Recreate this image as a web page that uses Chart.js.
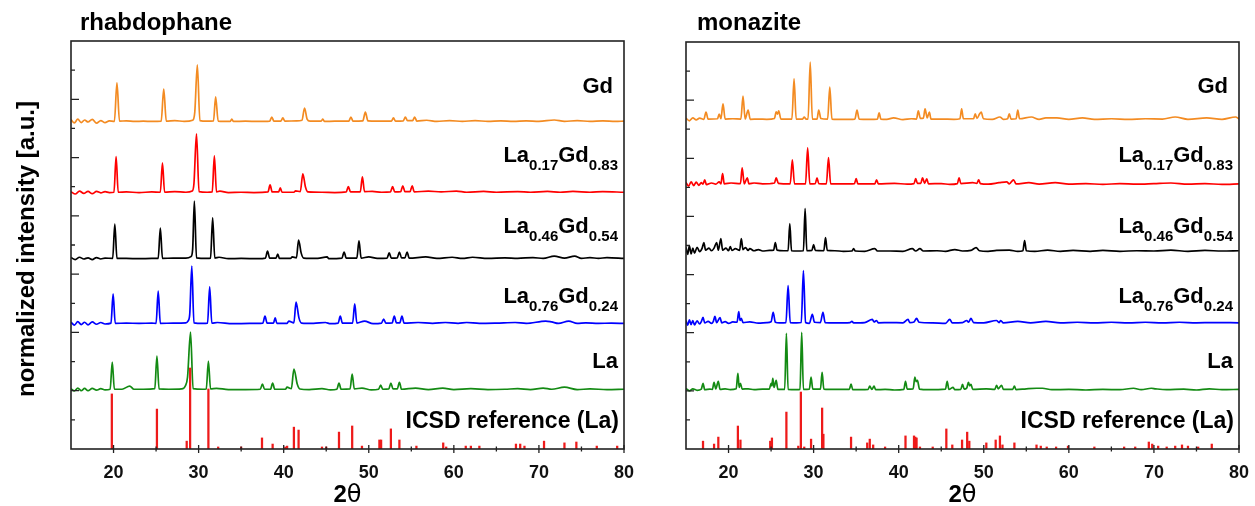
<!DOCTYPE html>
<html><head><meta charset="utf-8">
<script src="https://cdn.jsdelivr.net/npm/chart.js@4.4.1/dist/chart.umd.min.js"></script>
<style>
html,body{margin:0;padding:0;background:#fff;}
#wrap{position:relative;width:1255px;height:506px;overflow:hidden;background:#fff;}
canvas{position:absolute;top:0;}
</style></head><body>
<div id="wrap">
<canvas id="c1" width="640" height="506" style="left:0;width:640px;height:506px"></canvas>
<canvas id="c2" width="615" height="506" style="left:640px;width:615px;height:506px"></canvas>
</div>
<script>
// ---------------- DATA ----------------
const xTickLabels = [20, 30, 40, 50, 60, 70, 80];
const xMinorTicks = [25, 35, 45, 55, 65, 75];
const yMajorTicks = [2, 4, 6, 8, 10, 12];
const yMinorTicks = [1, 3, 5, 7, 9, 11, 13];
const panelTitles = ['rhabdophane', 'monazite'];
const sampleNames = ['Gd', 'La0.17Gd0.83', 'La0.46Gd0.54', 'La0.76Gd0.24', 'La'];
const referenceName = 'ICSD reference (La)';
const xAxisTitle = ['2', 'θ'];
const yAxisTitle = 'normalized intensity [a.u.]';

// vertical offsets of the stacked patterns (Gd, La0.17, La0.46, La0.76, La)
const rhabOffsets = [11.22, 8.79, 6.52, 4.29, 2.02];
const monOffsets = [11.32, 9.09, 6.79, 4.32, 2.02];

// rhabdophane patterns [2theta, intensity above own baseline]
const rhabGd = [[15,0.08],[15.4,-0.03],[15.8,0.1],[16.2,-0.02],[16.6,0.07],[17,0.0],[17.5,0.09],[18,-0.04],[18.5,0.05],[19,-0.02],[19.5,0.04],[20.1,0.02],[20.4,1.34],[20.7,0.03],[21.5,0.04],[22.5,0.02],[23.5,0.03],[24.5,0.02],[25.6,0.03],[25.9,1.13],[26.2,0.03],[27.2,0.05],[28.3,0.02],[29.3,0.06],[29.55,0.34],[29.85,1.96],[30.15,0.05],[31,0.03],[31.75,0.04],[32.0,0.86],[32.3,0.03],[33.7,0.02],[33.9,0.1],[34.1,0.02],[35.5,0.03],[37,0.02],[38.35,0.03],[38.6,0.17],[38.85,0.03],[39.65,0.03],[39.9,0.14],[40.15,0.03],[41.5,0.04],[42.15,0.06],[42.45,0.48],[42.75,0.1],[43.1,0.03],[44.4,0.03],[44.6,0.1],[44.8,0.02],[46,0.03],[47.65,0.03],[47.9,0.17],[48.15,0.03],[49.3,0.04],[49.6,0.34],[49.9,0.04],[51,0.03],[52.65,0.03],[52.9,0.14],[53.15,0.03],[54.05,0.04],[54.3,0.17],[54.55,0.05],[55.15,0.05],[55.4,0.17],[55.65,0.03],[56.8,0.06],[58,0.02],[59.5,0.05],[61,0.02],[62.5,0.05],[64,0.02],[65.5,0.04],[67,0.02],[68.5,0.04],[70,0.02],[71.8,0.07],[73,0.02],[74.5,0.05],[76,0.02],[77.5,0.04],[79,0.02],[80,0.03]];
const rhabLa017 = [[15,0.04],[15.5,-0.04],[16,0.06],[16.5,-0.02],[17,0.05],[17.5,-0.03],[18,0.05],[18.5,0.0],[19,0.04],[19.5,0.01],[20.05,0.02],[20.3,1.24],[20.55,0.02],[21.5,0.03],[23,0.01],[24.5,0.03],[25.5,0.02],[25.75,1.03],[26.0,0.02],[27.2,0.04],[28.5,0.02],[29.25,0.06],[29.45,0.31],[29.75,2.02],[30.05,0.04],[31.0,0.02],[31.6,0.03],[31.85,1.27],[32.1,0.03],[32.5,0.06],[33.5,0.01],[35,0.02],[36.5,0.01],[38.15,0.03],[38.4,0.27],[38.65,0.03],[39.4,0.03],[39.6,0.17],[39.8,0.02],[41.2,0.02],[41.4,0.07],[41.95,0.04],[42.25,0.65],[42.55,0.21],[42.85,0.03],[44.5,0.02],[46,0.01],[47.35,0.03],[47.6,0.21],[47.85,0.03],[49.0,0.03],[49.25,0.55],[49.5,0.04],[50.4,0.05],[51.5,0.02],[52.55,0.03],[52.8,0.21],[53.05,0.03],[53.75,0.04],[54.0,0.24],[54.25,0.04],[54.85,0.04],[55.1,0.24],[55.35,0.03],[57,0.06],[58.5,0.03],[60.3,0.06],[61.5,0.02],[63.5,0.05],[65,0.02],[67.5,0.04],[69,0.02],[71,0.05],[72.5,0.02],[74,0.05],[76,0.02],[77.5,0.04],[80,0.02]];
const rhabLa046 = [[15,0.05],[15.5,-0.02],[16,0.06],[16.5,0.0],[17,0.04],[17.5,-0.02],[18,0.05],[18.5,0.0],[19,0.03],[19.9,0.02],[20.15,1.2],[20.4,0.02],[21.5,0.02],[23,0.01],[24.5,0.02],[25.25,0.02],[25.5,1.06],[25.75,0.02],[27,0.03],[28.5,0.03],[29.1,0.08],[29.3,0.34],[29.5,1.99],[29.75,0.04],[31.0,0.02],[31.4,0.03],[31.65,1.41],[31.9,0.03],[32.4,0.06],[33.5,0.01],[35,0.02],[37,0.01],[37.85,0.03],[38.1,0.27],[38.35,0.03],[39.1,0.03],[39.3,0.17],[39.5,0.02],[40.8,0.02],[41.0,0.07],[41.5,0.04],[41.75,0.65],[42.05,0.21],[42.35,0.03],[44,0.02],[45.1,0.07],[45.3,0.01],[46.85,0.03],[47.1,0.24],[47.35,0.03],[48.6,0.03],[48.85,0.62],[49.1,0.03],[50.0,0.07],[51,0.02],[52.15,0.03],[52.4,0.21],[52.65,0.03],[53.35,0.04],[53.6,0.24],[53.85,0.04],[54.25,0.04],[54.5,0.24],[54.75,0.03],[56.7,0.07],[58,0.02],[59.8,0.06],[61,0.02],[62.2,0.06],[64,0.02],[66,0.04],[67.5,0.02],[69.3,0.05],[70.5,0.02],[71.8,0.1],[73,0.03],[74.2,0.1],[75,0.02],[76,0.05],[77,0.02],[78,0.05],[80,0.02]];
const rhabLa076 = [[15,0.06],[15.4,-0.04],[15.8,0.08],[16.2,-0.02],[16.6,0.06],[17,-0.03],[17.5,0.07],[18,-0.01],[18.5,0.05],[19,0.0],[19.7,0.03],[19.95,1.03],[20.2,0.02],[21.5,0.03],[23,0.02],[24.5,0.03],[25.0,0.02],[25.25,1.13],[25.5,0.02],[27,0.03],[28.5,0.04],[28.75,0.1],[28.95,0.31],[29.2,1.99],[29.45,0.04],[30.5,0.02],[31.05,0.03],[31.3,1.27],[31.55,0.03],[32.2,0.05],[34,0.01],[36,0.02],[37.55,0.03],[37.8,0.27],[38.05,0.03],[38.8,0.03],[39.0,0.21],[39.2,0.02],[40.4,0.02],[40.6,0.1],[41.2,0.04],[41.45,0.75],[41.8,0.2],[42.1,0.03],[43.5,0.02],[44.9,0.05],[45.5,0.01],[46.4,0.03],[46.65,0.27],[46.9,0.03],[48.1,0.03],[48.35,0.69],[48.6,0.03],[49.5,0.1],[50.5,0.01],[51.5,0.03],[51.75,0.17],[52.0,0.03],[52.75,0.04],[53.0,0.27],[53.25,0.04],[53.65,0.04],[53.9,0.27],[54.15,0.03],[55.8,0.05],[57.5,0.02],[59,0.05],[60.5,0.02],[61.5,0.05],[63,0.02],[65,0.03],[67.2,0.05],[68.5,0.02],[70.8,0.1],[71.5,0.07],[72.3,0.02],[73.5,0.1],[74.5,0.02],[75.5,0.04],[77,0.02],[78.5,0.03],[80,0.02]];
const rhabLa = [[15,0.05],[15.4,-0.03],[15.8,0.07],[16.2,-0.02],[16.6,0.06],[17,-0.02],[17.5,0.06],[18,0.0],[18.5,0.05],[19,0.01],[19.6,0.03],[19.85,0.96],[20.1,0.03],[21.0,0.03],[21.9,0.14],[22.4,0.03],[23.5,0.03],[24.85,0.05],[25.1,1.17],[25.35,0.04],[26.5,0.03],[28.0,0.04],[28.45,0.15],[28.7,0.45],[29.05,1.99],[29.35,0.05],[30.5,0.03],[30.9,0.04],[31.15,1.0],[31.4,0.04],[32.1,0.06],[33.5,0.02],[35.5,0.02],[37.25,0.03],[37.5,0.21],[37.75,0.03],[38.45,0.03],[38.7,0.24],[38.95,0.03],[40.2,0.03],[40.4,0.1],[40.9,0.05],[41.2,0.72],[41.6,0.2],[41.9,0.04],[43,0.02],[44.5,0.05],[45.5,0.01],[46.25,0.03],[46.5,0.24],[46.75,0.03],[47.8,0.04],[48.05,0.55],[48.3,0.04],[49.2,0.07],[50.3,0.01],[51.15,0.03],[51.4,0.17],[51.65,0.03],[52.35,0.04],[52.6,0.24],[52.85,0.04],[53.35,0.04],[53.6,0.27],[53.85,0.03],[55.5,0.07],[57,0.02],[58.7,0.07],[60,0.02],[62,0.05],[64,0.02],[66,0.03],[67.5,0.05],[69,0.02],[70.5,0.07],[71.5,0.03],[73,0.1],[74.5,0.02],[76,0.04],[78,0.02],[80,0.03]];
// rhabdophane ICSD reference reflections [2theta, intensity]
const rhabSticks = [[19.8,1.89],[25.1,1.37],[28.6,0.27],[29.0,2.78],[31.15,2.06],[32.3,0.07],[35.0,0.07],[37.45,0.38],[38.7,0.17],[40.2,0.07],[40.4,0.1],[41.2,0.75],[41.75,0.65],[44.5,0.07],[45.0,0.07],[46.5,0.58],[48.05,0.79],[49.2,0.1],[51.25,0.31],[51.45,0.31],[52.6,0.69],[53.6,0.31],[55.6,0.1],[58.75,0.21],[59.1,0.07],[61.4,0.1],[62.0,0.1],[63.0,0.1],[67.3,0.17],[67.8,0.17],[68.3,0.1],[70.6,0.27],[73.0,0.21],[74.4,0.24],[76.8,0.1],[79.2,0.1]];

// monazite patterns
const monGd = [[15,0.06],[15.4,-0.03],[15.8,0.07],[16.2,0.0],[16.6,0.06],[17.1,0.02],[17.35,0.27],[17.6,0.03],[18.7,0.04],[18.9,0.2],[19.1,0.04],[19.35,0.55],[19.6,0.03],[20.5,0.04],[21.45,0.03],[21.7,0.82],[21.95,0.03],[22.3,0.34],[22.55,0.02],[23.5,0.03],[24.5,0.02],[25.4,0.05],[25.6,0.28],[25.75,0.2],[25.9,0.31],[26.15,0.03],[27.45,0.03],[27.7,1.41],[27.95,0.03],[28.7,0.03],[28.9,0.1],[29.1,0.03],[29.35,0.03],[29.6,1.99],[29.85,0.03],[30.4,0.03],[30.6,0.34],[30.85,0.05],[31.65,0.03],[31.9,1.13],[32.15,0.03],[33.5,0.02],[34.85,0.03],[35.1,0.34],[35.35,0.03],[36.5,0.02],[37.5,0.03],[37.7,0.24],[37.9,0.03],[38.6,0.02],[39.4,0.07],[40.5,0.01],[41.5,0.04],[42.1,0.03],[42.3,0.31],[42.55,0.05],[42.9,0.06],[43.1,0.38],[43.35,0.07],[43.6,0.27],[43.8,0.03],[45,0.03],[46.5,0.02],[47.2,0.04],[47.4,0.38],[47.6,0.04],[48.8,0.04],[49.0,0.21],[49.2,0.05],[49.5,0.2],[49.7,0.27],[49.95,0.04],[51,0.02],[51.9,0.1],[52.3,0.02],[52.8,0.04],[53.0,0.21],[53.2,0.03],[53.8,0.04],[54.0,0.34],[54.2,0.04],[55.6,0.1],[56.5,0.02],[57.3,0.07],[58.6,0.07],[60,0.02],[61.6,0.07],[63,0.02],[65,0.04],[67,0.02],[69,0.04],[71,0.03],[72.5,0.1],[74,0.02],[76.2,0.07],[78,0.02],[79.6,0.1],[80,0.03]];
const monLa017 = [[15,0.08],[15.3,-0.05],[15.6,0.1],[15.9,-0.03],[16.2,0.09],[16.5,-0.02],[16.8,0.07],[17.0,0.02],[17.2,0.17],[17.4,0.0],[18,0.06],[18.5,0.02],[18.9,0.1],[19.1,0.03],[19.3,0.38],[19.5,0.03],[20.3,0.06],[21.4,0.04],[21.6,0.58],[21.85,0.03],[22.2,0.24],[22.4,0.03],[23,0.06],[24,0.03],[25.4,0.06],[25.6,0.24],[25.85,0.05],[27.25,0.03],[27.5,0.86],[27.75,0.03],[29.05,0.03],[29.3,1.27],[29.55,0.03],[30.2,0.04],[30.4,0.24],[30.6,0.04],[31.5,0.03],[31.75,0.93],[32.0,0.03],[33.5,0.03],[34.8,0.04],[35.0,0.21],[35.2,0.03],[36.5,0.03],[37.2,0.03],[37.4,0.17],[37.6,0.03],[39.5,0.05],[41,0.02],[41.8,0.04],[42.0,0.21],[42.2,0.05],[42.6,0.05],[42.8,0.24],[43.05,0.05],[43.3,0.2],[43.5,0.03],[45,0.04],[46,0.01],[46.9,0.04],[47.1,0.24],[47.3,0.04],[48.7,0.07],[49.2,0.05],[49.4,0.17],[49.6,0.04],[50.5,0.02],[51.8,0.07],[52.7,0.1],[53.0,0.03],[53.5,0.17],[53.8,0.03],[55.3,0.07],[56.5,0.02],[58.4,0.07],[60,0.02],[62,0.04],[64,0.01],[66,0.04],[68,0.02],[70,0.04],[72,0.06],[74,0.02],[76,0.04],[78,0.01],[80,0.03]];
const monLa046 = [[15,0.15],[15.2,-0.1],[15.4,0.2],[15.6,-0.08],[15.8,0.12],[16.0,-0.05],[16.3,0.15],[16.6,0.0],[16.9,0.12],[17.1,0.31],[17.3,0.05],[17.7,0.12],[18.0,0.03],[18.3,0.12],[18.6,0.31],[18.8,0.05],[19.1,0.45],[19.3,0.05],[19.7,0.12],[20.0,0.03],[20.2,0.17],[20.4,0.04],[20.8,0.1],[21.3,0.04],[21.5,0.45],[21.7,0.07],[22.0,0.14],[22.3,0.04],[22.5,0.1],[23.0,0.03],[23.5,0.07],[24.0,0.02],[24.8,0.04],[25.3,0.05],[25.5,0.31],[25.7,0.05],[26.5,0.03],[27.0,0.03],[27.2,0.96],[27.4,0.03],[28.0,0.02],[28.8,0.03],[29.0,1.48],[29.2,0.03],[29.8,0.04],[30.0,0.24],[30.2,0.04],[31.2,0.03],[31.4,0.48],[31.6,0.04],[32.5,0.03],[33.5,0.01],[34.5,0.02],[34.7,0.1],[34.9,0.02],[36,0.01],[37.2,0.1],[37.5,0.02],[39,0.02],[40.5,0.01],[41.6,0.1],[42.0,0.02],[42.5,0.1],[42.9,0.02],[44.5,0.03],[45.5,0.01],[46.6,0.07],[47.5,0.02],[48.5,0.04],[49.1,0.14],[49.5,0.03],[50.5,0.01],[51.5,0.04],[53.0,0.05],[54.0,0.01],[54.6,0.03],[54.8,0.38],[55.0,0.03],[56,0.01],[57.5,0.05],[59,0.01],[60.5,0.04],[62.5,0.01],[64,0.04],[66,0.01],[68,0.03],[70,0.02],[72,0.05],[74,0.01],[76,0.04],[78,0.02],[80,0.03]];
const monLa076 = [[15,0.1],[15.2,-0.06],[15.4,0.12],[15.6,-0.04],[15.8,0.1],[16.0,-0.05],[16.3,0.09],[16.6,-0.02],[16.8,0.06],[17.0,0.21],[17.2,0.02],[17.6,0.07],[18.0,0.0],[18.2,0.06],[18.4,0.24],[18.6,0.03],[19.0,0.2],[19.2,0.02],[19.6,0.06],[20.0,0.0],[20.5,0.05],[21.0,0.04],[21.2,0.41],[21.35,0.1],[21.5,0.17],[21.7,0.03],[22.5,0.05],[23.5,0.01],[24.5,0.03],[25.0,0.06],[25.25,0.38],[25.5,0.04],[26.0,0.02],[26.75,0.03],[27.0,1.3],[27.25,0.03],[28.0,0.02],[28.55,0.03],[28.8,1.82],[29.05,0.03],[29.5,0.0],[29.85,0.31],[30.1,0.04],[30.8,0.03],[31.1,0.38],[31.35,0.03],[32.5,0.02],[34.3,0.03],[34.5,0.07],[34.7,0.02],[36.0,0.03],[36.9,0.14],[37.1,0.05],[37.4,0.1],[37.6,0.02],[39,0.03],[40.5,0.02],[41.1,0.14],[41.3,0.03],[41.8,0.05],[42.1,0.17],[42.4,0.04],[44,0.02],[45.5,0.0],[46.0,0.14],[46.3,0.02],[47.5,0.03],[48.0,0.1],[48.2,0.04],[48.5,0.17],[48.8,0.03],[50,0.02],[51.5,0.1],[51.8,0.03],[52.0,0.1],[52.3,0.02],[54.0,0.07],[55.5,0.02],[57.3,0.07],[59,0.02],[61,0.04],[63,0.02],[65,0.04],[67,0.02],[69,0.04],[71,0.02],[73,0.04],[75,0.02],[77,0.03],[80,0.02]];
const monLa = [[15,0.06],[15.4,-0.02],[15.8,0.05],[16.3,0.0],[16.8,0.04],[17.0,0.24],[17.2,0.02],[17.8,0.04],[18.1,0.03],[18.3,0.27],[18.5,0.05],[18.8,0.31],[19.0,0.03],[19.6,0.05],[20.2,0.02],[20.9,0.05],[21.1,0.58],[21.25,0.1],[21.4,0.24],[21.6,0.04],[22.3,0.05],[23,0.02],[24,0.04],[24.8,0.04],[25.0,0.24],[25.1,0.15],[25.2,0.41],[25.35,0.1],[25.6,0.34],[25.8,0.03],[26.6,0.03],[26.8,1.96],[27.0,0.03],[28.0,0.02],[28.4,0.03],[28.6,1.99],[28.8,0.03],[29.5,0.04],[29.7,0.45],[29.9,0.04],[30.8,0.04],[31.0,0.62],[31.2,0.04],[32.5,0.03],[34.2,0.03],[34.4,0.21],[34.6,0.02],[35.5,0.02],[36.4,0.03],[36.6,0.14],[36.85,0.03],[37.1,0.14],[37.3,0.02],[38.4,0.03],[39.5,0.01],[40.6,0.03],[40.8,0.31],[41.0,0.04],[41.7,0.05],[41.9,0.45],[42.05,0.3],[42.2,0.34],[42.45,0.04],[43.5,0.02],[45.5,0.04],[45.7,0.31],[45.9,0.03],[46.4,0.1],[46.6,0.02],[47.3,0.03],[47.5,0.2],[47.7,0.04],[48.0,0.08],[48.2,0.27],[48.35,0.15],[48.5,0.2],[48.7,0.03],[50.3,0.05],[51.3,0.03],[51.5,0.17],[51.7,0.05],[52.1,0.17],[52.3,0.03],[53.4,0.03],[53.6,0.14],[53.8,0.02],[55,0.05],[56.2,0.07],[56.9,0.07],[58,0.02],[60,0.03],[62,0.01],[64,0.03],[66,0.02],[67.6,0.07],[68.5,0.02],[69.7,0.07],[70.2,0.05],[71.5,0.02],[73.5,0.04],[75,0.01],[76.5,0.05],[78,0.02],[80,0.03]];
// monazite ICSD reference reflections
const monSticks = [[17.0,0.27],[18.3,0.17],[18.8,0.41],[21.1,0.79],[21.4,0.31],[24.9,0.27],[25.1,0.38],[26.8,1.27],[28.2,0.1],[28.5,1.96],[28.9,0.07],[29.7,0.34],[31.0,1.41],[31.15,0.51],[34.4,0.41],[36.3,0.21],[36.6,0.34],[37.0,0.14],[38.4,0.07],[40.8,0.45],[41.8,0.45],[41.95,0.41],[42.1,0.38],[42.5,0.07],[44.0,0.07],[45.6,0.69],[46.3,0.14],[47.45,0.31],[48.05,0.58],[48.3,0.27],[50.3,0.21],[51.4,0.31],[51.9,0.45],[52.2,0.14],[53.6,0.21],[56.2,0.14],[56.7,0.1],[57.4,0.07],[58.5,0.07],[59.9,0.1],[63.0,0.07],[66.5,0.07],[67.8,0.07],[69.4,0.24],[69.8,0.17],[70.5,0.1],[71.5,0.07],[72.5,0.1],[73.3,0.14],[74.0,0.1],[75.2,0.07],[76.8,0.17]];

// ---------------- STYLE / LAYOUT ----------------
const FONT = '"Liberation Sans", Arial, Helvetica, sans-serif';
const seriesColors = ['#F38B22', '#FF0000', '#000000', '#0000FF', '#138A13'];
const stickColor = '#EE1A1A';
const labelBaselines = [93, 162, 233, 303, 368, 428];

function drawRich(ctx, text, xRight, yBase, mainSize, subSize, subDrop) {
  const parts = text.split(/(\d+\.\d+)/).filter(s => s.length);
  const fonts = parts.map(p => /^\d+\.\d+$/.test(p) ? 'bold ' + subSize + 'px ' + FONT : 'bold ' + mainSize + 'px ' + FONT);
  let total = 0;
  const widths = parts.map((p, i) => { ctx.font = fonts[i]; const w = ctx.measureText(p).width; total += w; return w; });
  let x = xRight - total;
  parts.forEach((p, i) => {
    ctx.font = fonts[i];
    const sub = /^\d+\.\d+$/.test(p);
    ctx.fillText(p, x, yBase + (sub ? subDrop : 0));
    x += widths[i];
  });
}

const decor = {
  id: 'decor',
  afterDraw(chart, args, o) {
    const ctx = chart.ctx, a = chart.chartArea, xs = chart.scales.x, ys = chart.scales.y;
    ctx.save();
    ctx.strokeStyle = '#222'; ctx.lineWidth = 1.6;
    ctx.strokeRect(a.left, a.top, a.right - a.left, a.bottom - a.top);
    ctx.lineWidth = 1.3;
    ctx.beginPath();
    yMajorTicks.forEach(v => { const p = ys.getPixelForValue(v); ctx.moveTo(a.left, p); ctx.lineTo(a.left + 8, p); });
    yMinorTicks.forEach(v => { const p = ys.getPixelForValue(v); ctx.moveTo(a.left, p); ctx.lineTo(a.left + 4, p); });
    xTickLabels.forEach(v => { const p = xs.getPixelForValue(v); ctx.moveTo(p, a.bottom - 4); ctx.lineTo(p, a.bottom + 4); });
    xMinorTicks.forEach(v => { const p = xs.getPixelForValue(v); ctx.moveTo(p, a.bottom - 2.5); ctx.lineTo(p, a.bottom + 2.5); });
    ctx.stroke();

    ctx.fillStyle = '#000'; ctx.textBaseline = 'alphabetic'; ctx.textAlign = 'left';
    ctx.font = 'bold 24px ' + FONT;
    ctx.fillText(o.title, a.left + o.titleDx, 30);

    // x title 2θ
    const cx = (a.left + a.right) / 2;
    ctx.font = 'bold 24px ' + FONT;
    const w1 = ctx.measureText(xAxisTitle[0]).width;
    ctx.font = '24px "DejaVu Sans", sans-serif';
    const w2 = ctx.measureText(xAxisTitle[1]).width;
    const sx = cx - (w1 + w2) / 2;
    ctx.font = 'bold 24px ' + FONT;
    ctx.fillText(xAxisTitle[0], sx, 502);
    ctx.font = '24px "DejaVu Sans", sans-serif';
    ctx.fillText(xAxisTitle[1], sx + w1, 502);

    // sample labels
    sampleNames.forEach((n, i) => {
      const xr = a.right - (i === 0 ? 11 : 6);
      drawRich(ctx, n, xr, labelBaselines[i], 22, 15, 8);
    });
    ctx.font = 'bold 23px ' + FONT; ctx.textAlign = 'right';
    ctx.fillText(referenceName, a.right - 5, labelBaselines[5]);

    if (o.yTitle) {
      ctx.save();
      ctx.translate(34, 249); ctx.rotate(-Math.PI / 2);
      ctx.textAlign = 'center'; ctx.font = 'bold 24px ' + FONT;
      ctx.fillText(yAxisTitle, 0, 0);
      ctx.restore();
    }
    ctx.restore();
  }
};

function makeChart(canvasId, title, series, offsets, sticks, pad, titleDx, yTitle) {
  const datasets = series.map((s, i) => ({
    type: 'line',
    data: s.map(([x, y]) => ({ x: x, y: y + offsets[i] })),
    borderColor: seriesColors[i], borderWidth: 1.7, pointRadius: 0,
    cubicInterpolationMode: 'monotone', borderJoinStyle: 'round', fill: false, order: 1
  }));
  datasets.push({
    type: 'bar',
    data: sticks.map(([x, y]) => ({ x: x, y: y })),
    backgroundColor: stickColor, borderWidth: 0, barThickness: 1.6, order: 0
  });
  return new Chart(document.getElementById(canvasId), {
    type: 'line',
    data: { datasets: datasets },
    options: {
      responsive: false, animation: false, devicePixelRatio: 1,
      layout: { padding: pad },
      plugins: { legend: { display: false }, tooltip: { enabled: false }, decor: { title: title, titleDx: titleDx, yTitle: yTitle } },
      scales: {
        x: {
          type: 'linear', min: 15, max: 80, offset: false,
          grid: { display: false }, border: { display: false },
          afterBuildTicks: s => { s.ticks = xTickLabels.map(v => ({ value: v })); },
          afterFit: s => { s.height = 57; },
          ticks: { padding: 5, maxRotation: 0, color: '#111', font: { family: FONT, size: 18, weight: 'bold' } }
        },
        y: { type: 'linear', min: 0, max: 14, display: false }
      }
    },
    plugins: [decor]
  });
}

makeChart('c1', panelTitles[0], [rhabGd, rhabLa017, rhabLa046, rhabLa076, rhabLa], rhabOffsets, rhabSticks,
  { left: 71, right: 16, top: 41, bottom: 0 }, 9, true);
makeChart('c2', panelTitles[1], [monGd, monLa017, monLa046, monLa076, monLa], monOffsets, monSticks,
  { left: 46, right: 16, top: 42, bottom: 0 }, 11, false);
</script>
</body></html>
